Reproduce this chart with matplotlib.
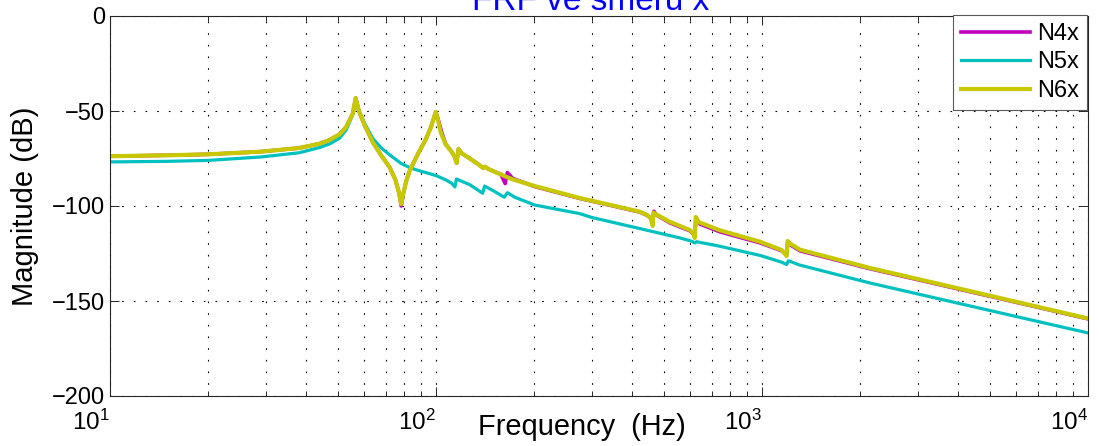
import matplotlib
matplotlib.use('Agg')
import matplotlib.pyplot as plt
from matplotlib import font_manager
from matplotlib.ticker import LogLocator, NullFormatter

# FRF magnitude of nodes N4, N5, N6 in the x direction
freq_n4x = [10, 15, 20, 29, 38, 44, 47.2, 50.6, 53, 55.5, 56.7, 58, 60.4, 64, 68, 72, 75, 77, 78.2,
            79.5, 81, 83, 86, 89, 93, 96.5, 99.8, 101.8, 104, 107, 111.7, 114, 115.7, 117.2, 120,
            127, 136, 139.5, 141.5, 145, 158, 163, 165.5, 172, 201, 276, 350, 422, 445, 456, 461,
            466, 475, 521, 560, 600, 616, 622, 627, 645, 743, 986, 1150, 1190, 1200, 1230, 1308,
            2142, 5000, 10000]
mag_n4x = [-73.8, -73.3, -72.8, -71.4, -69.5, -67.2, -65.2, -62.3, -58.5, -51.5, -43.2, -50, -57.5,
           -66.5, -73.5, -79.5, -86, -93, -100, -93, -87, -81.5, -76, -71, -65, -58.5, -50.5, -55,
           -61, -67.3, -71.5, -74, -77.4, -70, -72.3, -75, -78.5, -80, -79.3, -80.6, -83.3, -88.2,
           -82.4, -85.5, -89.8, -96.0, -100.0, -103.2, -105.0, -106.5, -108.5, -102.8, -104.8,
           -108.8, -111.0, -113.0, -114.7, -116.0, -106.2, -109.5, -113.6, -119.4, -123.6, -125.8,
           -118.8, -120.8, -123.6, -133.0, -147.5, -159.4]

freq_n5x = [10, 15, 20, 29, 38, 44, 47.2, 50.6, 53, 55.5, 56.7, 58, 60.4, 64, 68, 72, 78, 83, 89,
            95.7, 100, 107, 111.7, 114.3, 115.5, 120, 127, 139, 141, 150, 162, 165.5, 175, 201,
            276, 300, 420, 560, 610, 622, 630, 743, 986, 1150, 1190, 1205, 1300, 2142, 5000, 10000]
mag_n5x = [-76.8, -76.5, -76, -74.2, -72, -69.2, -67.3, -64.3, -60, -52, -43.2, -49.5, -56.5, -64.5,
           -69.5, -73, -77.5, -79.8, -81.5, -83, -84, -86.2, -88, -90, -85.8, -87, -88.8, -93.3,
           -89.5, -92, -95.4, -93, -95.5, -99.5, -104, -106, -111.8, -116.8, -118.6, -119.5, -118.8,
           -121.2, -126, -129.6, -130.8, -128.8, -131, -140.5, -155, -166.8]

freq_n6x = [10, 15, 20, 29, 38, 44, 47.2, 50.6, 53, 55.5, 56.7, 58, 60.4, 64, 68, 72, 75, 77, 78.2,
            79.5, 81, 83, 86, 89, 93, 96.5, 99.8, 101.5, 103.5, 107, 111.7, 114, 115.7, 117.2, 120,
            127, 136, 139.5, 141.5, 145, 162, 172, 201, 276, 350, 422, 445, 456, 462, 464.5, 472,
            521, 560, 600, 616, 622, 626, 640, 743, 986, 1150, 1190, 1198, 1220, 1308, 2142, 5000,
            10000]
mag_n6x = [-73.8, -73.3, -72.8, -71.4, -69.5, -67.2, -65.2, -62.3, -58.5, -51.5, -43.2, -50, -57.5,
           -66.5, -73.5, -79.5, -86, -93, -99, -93, -87, -81.5, -76, -71, -65, -58.5, -50.5, -55,
           -61.5, -67.5, -71.5, -74, -77.4, -70, -72.3, -75, -78.5, -80, -79.3, -80.6, -84.2, -86,
           -89.5, -95.8, -99.8, -103, -104.8, -106.5, -110.5, -103.5, -104.3, -108.3, -110.5,
           -112.6, -114.5, -116.8, -105.8, -108.5, -112.8, -118.8, -123.2, -126.3, -118.4, -119.8,
           -123, -132.6, -147.2, -159.2]

series_labels = ['N4x', 'N5x', 'N6x']
x_ticks = [10, 100, 1000, 10000]
y_ticks = [-200, -150, -100, -50, 0]

plt.rcParams['font.family'] = 'Liberation Sans'
plt.rcParams['axes.unicode_minus'] = True

installed = {f.name for f in font_manager.fontManager.ttflist}
narrow = 'Liberation Sans Narrow' if 'Liberation Sans Narrow' in installed else 'Liberation Sans'
narrow_scale = 1.0 if narrow == 'Liberation Sans Narrow' else 0.87

fig = plt.figure(figsize=(10.99, 4.46), dpi=100)
ax = fig.add_axes([110 / 1099, 50 / 446, 978 / 1099, 380 / 446])

ax.plot(freq_n4x, mag_n4x, color='#c000c0', lw=2.6, label=series_labels[0])
ax.plot(freq_n5x, mag_n5x, color='#00c0c0', lw=2.3, label=series_labels[1])
ax.plot(freq_n6x, mag_n6x, color='#c8c800', lw=3.0, label=series_labels[2])

ax.set_xscale('log')
ax.set_xlim(10, 10000)
ax.set_ylim(-200, 0)

ax.set_xticks(x_ticks, labels=[r'$\mathregular{10^{%d}}$' % len(str(t)[1:]) for t in x_ticks])
ax.xaxis.set_minor_locator(LogLocator(base=10, subs=range(2, 10), numticks=20))
ax.xaxis.set_minor_formatter(NullFormatter())
ax.set_yticks(y_ticks)

ax.tick_params(axis='both', which='both', direction='in', top=True, right=True, color='0.15')
ax.tick_params(axis='both', which='major', length=6.5, width=0.7)
ax.tick_params(axis='x', which='minor', length=3.5, width=0.7)
ax.tick_params(axis='y', labelsize=17, pad=3.5)
ax.tick_params(axis='x', which='major', labelsize=20 * narrow_scale, pad=10,
               labelfontfamily=narrow)
for lbl in ax.get_xticklabels():
    lbl.set_ha('right')

for s in ax.spines.values():
    s.set_linewidth(0.8)
    s.set_color('0.15')

ax.grid(True, which='major', color='k', ls=(0, (1.5, 9)), lw=0.8)
ax.grid(True, which='minor', axis='x', color='k', ls=(0, (1.5, 9)), lw=0.8)

ax.set_ylabel('Magnitude (dB)', fontsize=21)
ax.yaxis.set_label_coords(-0.0725, 0.5)
ax.set_xlabel('Frequency  (Hz)', fontsize=24 * narrow_scale, family=narrow)
ax.xaxis.set_label_coords(0.4826, -0.045)
ax.xaxis.label.set_va('top')

fig.text(591 / 1099, 1 - 10 / 446, 'FRF ve směru x', color='#0000ff', fontsize=24,
         ha='center', va='baseline')

leg = ax.legend(loc='upper right', bbox_to_anchor=(0.999, 1.003), borderaxespad=0,
                fontsize=17, handlelength=2.9, handletextpad=0.3, labelspacing=0.27,
                borderpad=0.35, fancybox=False, framealpha=1, edgecolor='0.35')
leg.get_frame().set_linewidth(0.8)

fig.savefig('out.png', dpi=100)
